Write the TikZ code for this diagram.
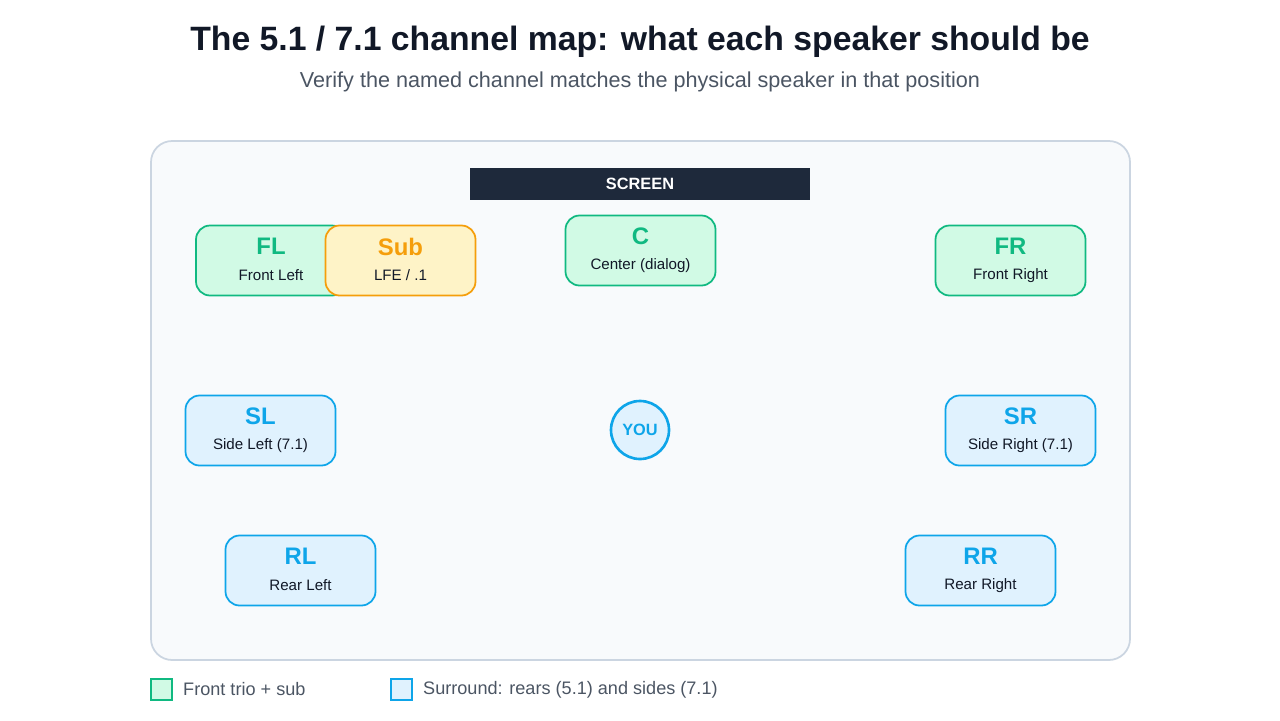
\documentclass[tikz,border=0pt]{standalone}
\usepackage{fontspec}
\setmainfont{Liberation Sans}
\definecolor{ink}{HTML}{111827}
\definecolor{subgray}{HTML}{4B5563}
\definecolor{roomfill}{HTML}{F8FAFC}
\definecolor{roomline}{HTML}{CBD5E1}
\definecolor{screenfill}{HTML}{1E293B}
\definecolor{frontfill}{HTML}{D1FAE5}
\definecolor{frontline}{HTML}{10B981}
\definecolor{subfill}{HTML}{FEF3C7}
\definecolor{subline}{HTML}{F59E0B}
\definecolor{surrfill}{HTML}{E0F2FE}
\definecolor{surrline}{HTML}{0EA5E9}
\tikzset{
  speaker/.style={rectangle, rounded corners=8pt, draw, line width=1pt, minimum width=3cm, minimum height=1.4cm},
  front/.style={speaker, fill=frontfill, draw=frontline},
  lfe/.style={speaker, fill=subfill, draw=subline},
  surround/.style={speaker, fill=surrfill, draw=surrline},
  chan/.style={font=\bfseries\fontsize{13.6}{15}\selectfont},
  desc/.style={font=\fontsize{8.6}{10}\selectfont, text=ink},
  legendbox/.style={rectangle, draw, line width=1pt, minimum size=0.42cm, inner sep=0pt},
  legendtext/.style={font=\fontsize{10.3}{12}\selectfont, text=subgray, anchor=west, inner sep=0pt}
}
\begin{document}
\begin{tikzpicture}
  \useasboundingbox (0,0) rectangle (25.6,-14.4);
  \node (title) [font=\bfseries\fontsize{19.2}{22}\selectfont, text=ink] at (12.8,-0.84) {The 5.1 / 7.1 channel map: what each speaker should be};
  \node (subtitle) [font=\fontsize{12.3}{14}\selectfont, text=subgray] at (12.8,-1.64) {Verify the named channel matches the physical speaker in that position};

  \node (room) [rectangle, rounded corners=12pt, draw=roomline, fill=roomfill, line width=1pt, minimum width=19.58cm, minimum height=10.38cm] at (12.81,-8.01) {};
  \node (screen) [rectangle, fill=screenfill, text=white, font=\bfseries\fontsize{9.3}{11}\selectfont, minimum width=6.8cm, minimum height=0.64cm] at (12.8,-3.68) {SCREEN};

  \node (fl) [front] at (5.42,-5.21) {};
  \node (sub) [lfe] at (8.01,-5.21) {};
  \node (c) [front] at (12.81,-5.01) {};
  \node (fr) [front] at (20.21,-5.21) {};
  \node (sl) [surround] at (5.21,-8.61) {};
  \node (sr) [surround] at (20.41,-8.61) {};
  \node (rl) [surround] at (6.01,-11.41) {};
  \node (rr) [surround] at (19.61,-11.41) {};

  \foreach \n/\t/\d/\c in {fl/FL/Front Left/frontline, sub/Sub/{LFE / .1}/subline, c/C/Center (dialog)/frontline, fr/FR/Front Right/frontline, sl/SL/Side Left (7.1)/surrline, sr/SR/Side Right (7.1)/surrline, rl/RL/Rear Left/surrline, rr/RR/Rear Right/surrline} {
    \node (\n-name) [chan, text=\c] at ([yshift=0.28cm]\n.center) {\t};
    \node (\n-desc) [desc] at ([yshift=-0.3cm]\n.center) {\d};
  }

  \node (you) [circle, draw=surrline, fill=surrfill, line width=1.5pt, minimum size=1.16cm, text=surrline, font=\bfseries\fontsize{9.3}{11}\selectfont] at (12.8,-8.6) {YOU};

  \node (key-front) [legendbox, fill=frontfill, draw=frontline] at (3.23,-13.79) {};
  \node (key-front-text) [legendtext] at ([xshift=0.2cm]key-front.east) {Front trio + sub};
  \node (key-surr) [legendbox, fill=surrfill, draw=surrline] at (8.03,-13.79) {};
  \node (key-surr-text) [legendtext] at ([xshift=0.2cm]key-surr.east) {Surround: rears (5.1) and sides (7.1)};
\end{tikzpicture}
\end{document}
